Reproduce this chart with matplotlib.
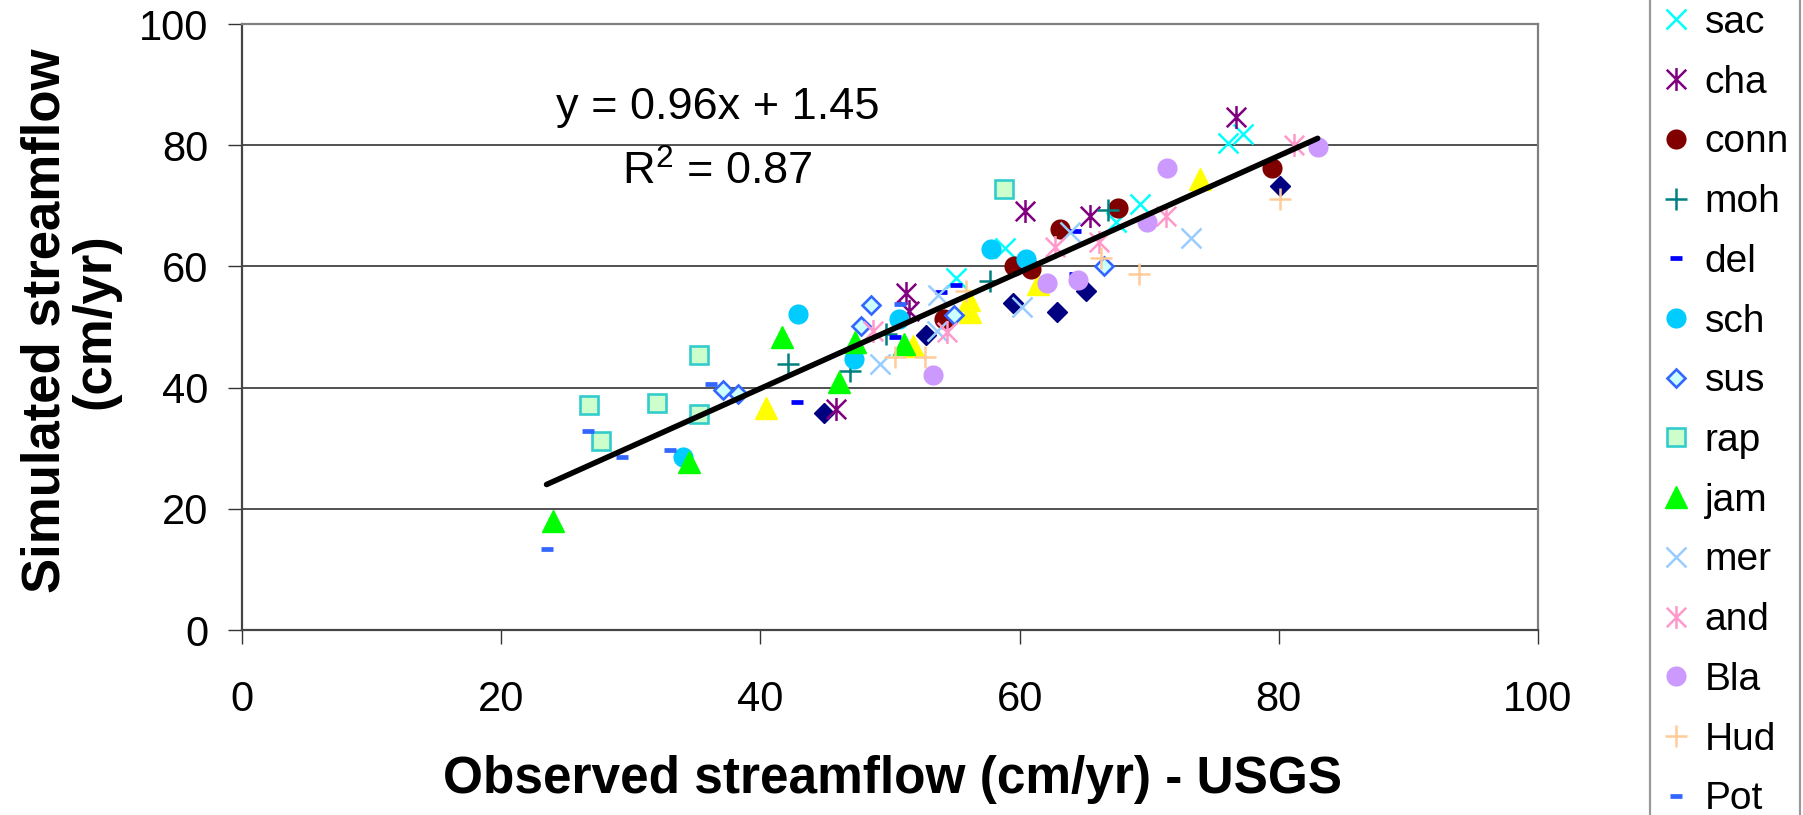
import numpy as np
import matplotlib
matplotlib.use("Agg")
import matplotlib.pyplot as plt
from matplotlib.path import Path

plt.rcParams['font.family'] = ['Liberation Sans', 'DejaVu Sans']
plt.rcParams['mathtext.fontset'] = 'custom'
plt.rcParams['mathtext.rm'] = 'Liberation Sans'
plt.rcParams['mathtext.it'] = 'Liberation Sans'

# observed (x) / simulated (y) streamflow, cm/yr, per basin
navy_x = [44.9, 52.8, 59.5, 62.9, 65.1, 80.1]
navy_y = [35.8, 48.6, 53.9, 52.5, 55.9, 73.2]
yel_x = [40.4, 51.8, 56.1, 56.2, 61.4, 73.9]
yel_y = [36.7, 46.9, 54.4, 52.5, 57.1, 74.5]
sac_x = [55.1, 58.9, 67.4, 69.3, 76.1, 77.2]
sac_y = [58.1, 63.0, 67.3, 70.3, 80.3, 81.9]
cha_x = [45.8, 51.2, 51.5, 60.4, 65.4, 76.7]
cha_y = [36.5, 55.6, 52.7, 69.1, 68.3, 84.7]
conn_x = [54.2, 59.6, 60.9, 63.1, 67.6, 79.5]
conn_y = [51.3, 60.0, 59.5, 66.2, 69.7, 76.3]
moh_x = [42.1, 46.9, 49.7, 57.7, 66.8]
moh_y = [43.9, 42.8, 48.9, 57.6, 69.3]
del_x = [42.8, 50.4, 53.9, 55.1, 64.3, 64.3]
del_y = [37.6, 48.3, 55.8, 56.9, 65.8, 58.8]
sch_x = [34.0, 42.9, 47.2, 50.7, 57.8, 60.5]
sch_y = [28.6, 52.2, 44.7, 51.3, 62.8, 61.3]
sus_x = [37.1, 38.3, 47.8, 48.5, 54.9, 66.5]
sus_y = [39.6, 39.0, 50.1, 53.7, 52.0, 60.0]
rap_x = [26.8, 27.7, 32.0, 35.3, 35.3, 58.8]
rap_y = [37.1, 31.2, 37.5, 45.3, 35.6, 72.8]
jam_x = [24.0, 34.5, 41.7, 46.1, 47.3, 51.1]
jam_y = [18.0, 27.8, 48.3, 40.9, 47.5, 47.2]
mer_x = [49.2, 53.6, 53.7, 60.2, 63.9, 73.2]
mer_y = [43.9, 49.4, 55.2, 53.3, 65.7, 64.7]
and_x = [48.7, 54.4, 62.7, 66.1, 71.3, 81.2]
and_y = [49.4, 49.1, 63.2, 64.0, 68.3, 80.0]
bla_x = [53.3, 62.1, 64.5, 69.8, 71.4, 83.0]
bla_y = [42.1, 57.2, 57.7, 67.3, 76.3, 79.7]
hud_x = [50.4, 52.7, 55.9, 66.3, 69.2, 80.1]
hud_y = [45.0, 45.0, 56.0, 61.4, 58.7, 71.1]
pot_x = [23.5, 26.7, 29.3, 33.0, 36.2, 50.8]
pot_y = [13.4, 32.9, 28.5, 29.7, 40.6, 53.8]

slope, intercept, r2 = 0.96, 1.45, 0.87

# excel style asterisk: x plus a vertical bar
ast = Path([(0, -1), (0, 1), (-0.85, -0.85), (0.85, 0.85), (-0.85, 0.85), (0.85, -0.85)],
           [Path.MOVETO, Path.LINETO] * 3)

series = [
    ('_nolegend_', navy_x, navy_y, dict(marker='D', ms=10, mfc='#000080', mec='#000080', mew=1)),
    ('_nolegend_', yel_x, yel_y, dict(marker='^', ms=15.5, mfc='#FFFF00', mec='#FFFF00', mew=1)),
    ('sac', sac_x, sac_y, dict(marker='x', ms=15, mec='#00FFFF', mew=1.8)),
    ('cha', cha_x, cha_y, dict(marker=ast, ms=16.5, mec='#800080', mfc='none', mew=1.8)),
    ('conn', conn_x, conn_y, dict(marker='o', ms=14.5, mfc='#800000', mec='#800000', mew=0)),
    ('moh', moh_x, moh_y, dict(marker='+', ms=16.5, mec='#008080', mew=1.8)),
    ('del', del_x, del_y, dict(marker='_', ms=9, mec='#0000FF', mew=3.4)),
    ('sch', sch_x, sch_y, dict(marker='o', ms=14.5, mfc='#00CCFF', mec='#00CCFF', mew=0)),
    ('sus', sus_x, sus_y, dict(marker='D', ms=9.5, mfc='#CCFFFF', mec='#3366FF', mew=1.9)),
    ('rap', rap_x, rap_y, dict(marker='s', ms=12.5, mfc='#CCFFCC', mec='#33CCCC', mew=1.9)),
    ('jam', jam_x, jam_y, dict(marker='^', ms=15.5, mfc='#00FF00', mec='#00FF00', mew=1)),
    ('mer', mer_x, mer_y, dict(marker='x', ms=15, mec='#99CCFF', mew=1.8)),
    ('and', and_x, and_y, dict(marker=ast, ms=16.5, mec='#FF99CC', mfc='none', mew=1.8)),
    ('Bla', bla_x, bla_y, dict(marker='o', ms=14.5, mfc='#CC99FF', mec='#CC99FF', mew=0)),
    ('Hud', hud_x, hud_y, dict(marker='+', ms=16.5, mec='#FFCC99', mew=1.8)),
    ('Pot', pot_x, pot_y, dict(marker='_', ms=9, mec='#3366FF', mew=3.4)),
]

fig = plt.figure(figsize=(18.03, 8.15), dpi=100)
W, H = 1803, 815
ax = fig.add_axes([242 / W, (H - 630) / H, 1296 / W, 606 / H])

handles, labels = [], []
for name, xs, ys, st in series:
    h, = ax.plot(xs, ys, linestyle='none', label=name, **st)
    if not name.startswith('_'):
        handles.append(h)
        labels.append(name)

all_x = np.concatenate([s[1] for s in series])
tx = np.array([all_x.min(), all_x.max()])
ax.plot(tx, slope * tx + intercept, color='black', lw=4, solid_capstyle='round')

ax.set_xlim(0, 100)
ax.set_ylim(0, 100)
ax.set_xticks(range(0, 101, 20))
ax.set_yticks(range(0, 101, 20))
ax.tick_params(axis='both', direction='out', length=10, width=1, color='#333333', labelsize=30)
ax.tick_params(axis='x', pad=26)
ax.tick_params(axis='y', pad=14)
ax.yaxis.grid(True, color='#333333', lw=1.2)
ax.set_axisbelow(True)
for side in ['left', 'bottom']:
    ax.spines[side].set_color('#444444')
    ax.spines[side].set_linewidth(1.6)
for side in ['top', 'right']:
    ax.spines[side].set_color('#808080')
    ax.spines[side].set_linewidth(1.6)

ax.set_xlabel('Observed streamflow (cm/yr) - USGS', fontsize=37, fontweight='bold', va='center')
ax.xaxis.set_label_coords(0.502, -0.2475)
ax.set_ylabel('Simulated streamflow\n(cm/yr)', fontsize=38, fontweight='bold', va='center',
              linespacing=1.0)
ax.yaxis.set_label_coords(-0.1327, 0.51)

ax.text(0.367, (630 - 108) / 606, f'y = {slope:.2f}x + {intercept:.2f}', transform=ax.transAxes,
        ha='center', va='center', fontsize=32.5)
ax.text(0.367, (630 - 172) / 606, f'R$^2$ = {r2:.2f}', transform=ax.transAxes,
        ha='center', va='center', fontsize=32.5)

leg = fig.legend(handles, labels, loc='lower left', bbox_to_anchor=(1650 / W, -14 / H),
                 bbox_transform=fig.transFigure, fontsize=28, frameon=True, fancybox=False,
                 edgecolor='#808080', labelspacing=0.61, borderpad=0.3, handlelength=0.75,
                 handletextpad=0.35, borderaxespad=0)
leg.get_frame().set_linewidth(1.6)

fig.savefig('out.png', dpi=100)
